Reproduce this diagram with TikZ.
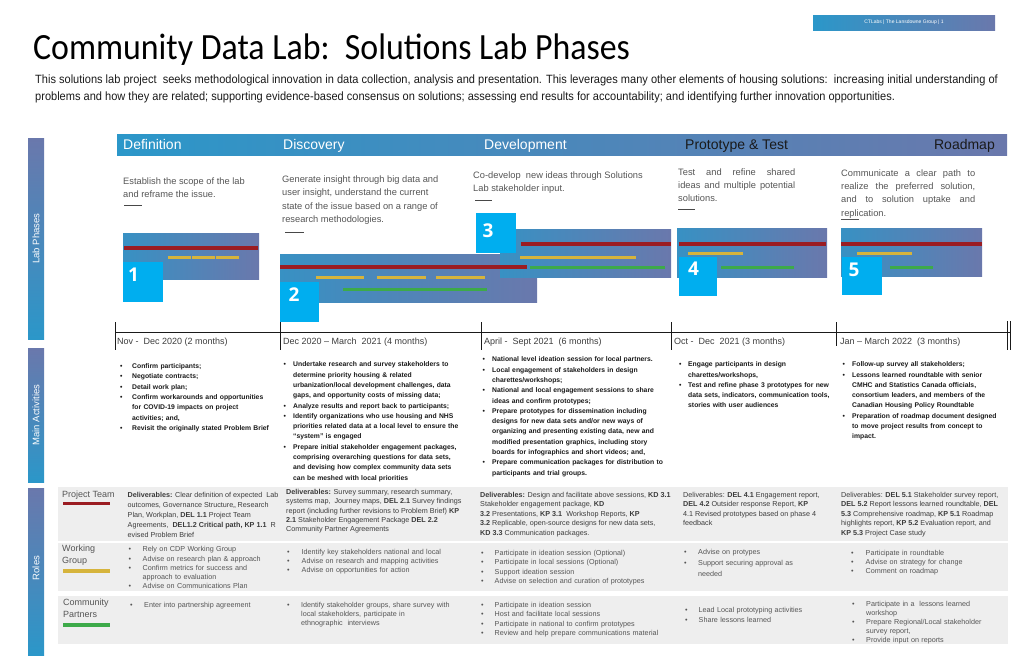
\documentclass[tikz,border=0pt]{standalone}
\usepackage{fontspec}
\setmainfont{Liberation Sans}
\newfontfamily\titlefont[FakeStretch=0.915]{Carlito}
\newfontfamily\narrowfont[FakeStretch=0.92]{Liberation Sans}
\newfontfamily\digitfont{Open Sans}
\usepackage{tikz}
\definecolor{labTeal}{HTML}{2B97C9}
\definecolor{labSlate}{HTML}{6A78AC}
\definecolor{labCyan}{HTML}{00AEEF}
\definecolor{labRed}{HTML}{9B1C22}
\definecolor{labGold}{HTML}{D6B43C}
\definecolor{labGreen}{HTML}{3DAA49}
\definecolor{labGrey}{HTML}{EEEEEE}
\definecolor{labInk}{HTML}{1A1A1A}
\definecolor{labText}{HTML}{555555}
\newcommand{\labitem}[2][10pt]{\par\noindent\hangindent=#1\hangafter=1\makebox[#1][l]{\textbullet}#2\par}
\tikzset{
  sidebar/.style={top color=labSlate,bottom color=labTeal,draw=none},
  sidetext/.style={rotate=90,text=white,inner sep=0pt,font=\fontsize{9.5}{11}\selectfont},
  phasehead/.style={anchor=base west,inner sep=0pt,font=\fontsize{14}{16}\selectfont},
  phasetext/.style={anchor=north west,inner sep=0pt,align=left,text=labText,
    font=\fontsize{9.3}{13.3}\selectfont},
  ganttpanel/.style={left color=labTeal!80!labSlate,right color=labSlate,draw=none},
  redbar/.style={draw=labRed,line width=4pt},
  goldbar/.style={draw=labGold,line width=3pt},
  greenbar/.style={draw=labGreen,line width=3pt},
  numtext/.style={text=white,inner sep=0pt,font=\digitfont\bfseries\fontsize{19}{19}\selectfont},
  timeline/.style={draw=labInk,line width=0.8pt},
  timetext/.style={anchor=base west,inner sep=0pt,text=labInk!85,font=\fontsize{9}{11}\selectfont},
  actlist/.style={anchor=north west,inner sep=0pt,align=left,text width=200pt,text=labInk,
    font=\bfseries\fontsize{6.8}{10.3}\selectfont},
  rolerow/.style={fill=labGrey,draw=none},
  rolename/.style={anchor=north west,inner sep=0pt,align=left,text=labText,font=\fontsize{9}{11.5}\selectfont},
  roletext/.style={anchor=north west,inner sep=0pt,align=left,text=labInk!85,font=\fontsize{7.2}{9.4}\selectfont},
  rolelist/.style={anchor=north west,inner sep=0pt,align=left,text width=200pt,text=labText,
    font=\fontsize{7.2}{9.2}\selectfont}
}

\begin{document}
\begin{tikzpicture}[x=1pt,y=-1pt]
  \useasboundingbox (0,0) rectangle (1024,662);

  \shade[left color=labTeal,right color=labSlate] (813,15) rectangle (995,30);
  \node[text=white,inner sep=0pt,font=\fontsize{5}{6}\selectfont] (tag) at (904,22.5) {CTLabs | The Lansdowne Group | 1};

  \node[anchor=base west,inner sep=0pt,font=\titlefont\fontsize{37}{40}\selectfont] (title) at (33,59)
    {Community Data Lab:\ \ Solutions Lab Phases};
  \node[anchor=base west,inner sep=0pt,text=labInk,font=\narrowfont\fontsize{12}{14}\selectfont] (intro1) at (35,83.5)
    {This solutions lab project\ \ seeks methodological innovation in data collection, analysis and presentation. This leverages many other elements of housing solutions:\ \ increasing initial understanding of};
  \node[anchor=base west,inner sep=0pt,text=labInk,font=\narrowfont\fontsize{12}{14}\selectfont] (intro2) at (35,100)
    {problems and how they are related; supporting evidence-based consensus on solutions; assessing end results for accountability; and identifying further innovation opportunities.};

  \shade[sidebar] (28,138) rectangle (44,339);
  \shade[sidebar] (28,348) rectangle (44,482);
  \shade[sidebar] (28,488) rectangle (44,655);
  \node[sidetext] (labphases) at (36,238.5) {Lab Phases};
  \node[sidetext] (mainact) at (36,415) {Main Activities};
  \node[sidetext] (roles) at (36,568) {Roles};

  \shade[left color=labTeal,right color=labSlate] (117,134) rectangle (1007,155);
  \node[phasehead,text=white] (definition) at (123,149) {Definition};
  \node[phasehead,text=white] (discovery) at (283,149) {Discovery};
  \node[phasehead,text=white] (development) at (484,149) {Development};
  \node[phasehead,text=labInk] (prototype) at (685,149) {Prototype \& Test};
  \node[phasehead,text=labInk,anchor=base east] (roadmap) at (995,149) {Roadmap};

  \node[phasetext] (defdesc) at (123,177.6) {Establish the scope of the lab\\and reframe the issue.};
  \node[phasetext] (discdesc) at (282,175.6) {Generate insight through big data and\\user insight, understand the current\\state of the issue based on a range of\\research methodologies.};
  \node[phasetext] (devdesc) at (473,171.3) {Co-develop\ \ new ideas through Solutions\\Lab stakeholder input.};
  \node[phasetext] (protodesc) at (678,168.3) {\makebox[117pt][s]{Test and refine shared}\\\makebox[117pt][s]{ideas and multiple potential}\\solutions.};
  \node[phasetext] (roaddesc) at (841,169.3) {\makebox[134pt][s]{Communicate a clear path to}\\\makebox[134pt][s]{realize the preferred solution,}\\\makebox[134pt][s]{and to solution uptake and}\\\underline{repli}cation.};
  \draw[labInk!80,line width=0.9pt] (124,205) -- (142,205);
  \draw[labInk!80,line width=0.9pt] (285,232) -- (304,232);
  \draw[labInk!80,line width=0.9pt] (475,200) -- (492,200);
  \draw[labInk!80,line width=0.9pt] (678,209) -- (695,209);

  \shade[ganttpanel] (123,233) rectangle (259,279);
  \shade[ganttpanel] (280,254) rectangle (537,302);
  \shade[ganttpanel] (500,229) rectangle (671,277);
  \shade[ganttpanel] (677,228) rectangle (827,277);
  \shade[ganttpanel] (841,228) rectangle (982,276);

  \draw[redbar] (124,248.3) -- (258,248.3);
  \draw[goldbar,dash pattern=on 23pt off 1pt] (168,257.3) -- (240,257.3);
  \draw[redbar] (280,267.3) -- (527,267.3);
  \draw[goldbar] (316,277.3) -- (364,277.3);
  \draw[goldbar] (377,277.3) -- (426,277.3);
  \draw[goldbar] (436,277.3) -- (485,277.3);
  \draw[greenbar] (343,289) -- (487,289);
  \draw[redbar] (521,244) -- (671,244);
  \draw[goldbar] (520,257) -- (636,257);
  \draw[greenbar] (530,267.3) -- (665,267.3);
  \draw[redbar] (679,244.3) -- (826,244.3);
  \draw[goldbar] (688,253) -- (743,253);
  \draw[greenbar] (721,267) -- (794,267);
  \draw[redbar] (841,244.3) -- (982,244.3);
  \draw[goldbar] (857,253) -- (912,253);
  \draw[greenbar] (890,267) -- (933,267);

  \fill[labCyan] (123,262) rectangle (162.5,301.7);
  \fill[labCyan] (280,282) rectangle (319,321.5);
  \fill[labCyan] (476,213) rectangle (516,253);
  \fill[labCyan] (679,257) rectangle (717,296);
  \fill[labCyan] (842,257) rectangle (881.7,295);
  \node[numtext] (num1) at (133.5,275) {1};
  \node[numtext] (num2) at (294,295) {2};
  \node[numtext] (num3) at (488,231) {3};
  \node[numtext] (num4) at (693.5,269) {4};
  \node[numtext] (num5) at (854,269.5) {5};

  \draw[timeline] (115,332) -- (1010,332);
  \draw[timeline] (115,322) -- (115,350);
  \draw[timeline] (280,322) -- (280,350);
  \draw[timeline] (481,322) -- (481,350);
  \draw[timeline] (671,322) -- (671,350);
  \draw[timeline] (836,322) -- (836,346);
  \draw[timeline] (1007,321) -- (1007,350);
  \draw[timeline] (1010,321) -- (1010,350);
  \node[timetext] (time1) at (117,344.5) {Nov -\ \ Dec 2020 (2 months)};
  \node[timetext] (time2) at (283,344.5) {Dec 2020 -- March\ \ 2021 (4 months)};
  \node[timetext] (time3) at (484,344.5) {April -\ \ Sept 2021\ \ (6 months)};
  \node[timetext] (time4) at (674,344.5) {Oct -\ \ Dec\ \ 2021 (3 months)};
  \node[timetext] (time5) at (840,344.5) {Jan -- March 2022\ \ (3 months)};

  \node[actlist] (act1) at (120,358) {%
    \labitem[12pt]{Confirm participants;}
    \labitem[12pt]{Negotiate contracts;}
    \labitem[12pt]{Detail work plan;}
    \labitem[12pt]{Confirm workarounds and opportunities\newline for COVID-19 impacts on project\newline activities; and,}
    \labitem[12pt]{Revisit the originally stated Problem Brief}};
  \node[actlist] (act2) at (283.5,356.3) {%
    \labitem[9.5pt]{Undertake research and survey stakeholders to\newline determine priority housing \& related\newline urbanization/local development challenges, data\newline gaps, and opportunity costs of missing data;}
    \labitem[9.5pt]{Analyze results and report back to participants;}
    \labitem[9.5pt]{Identify organizations who use housing and NHS\newline priorities related data at a local level to ensure the\newline ``system'' is engaged}
    \labitem[9.5pt]{Prepare initial stakeholder engagement packages,\newline comprising overarching questions for data sets,\newline and devising how complex community data sets\newline can be meshed with local priorities}};
  \node[actlist] (act3) at (482.5,351.3) {%
    \labitem[9.5pt]{National level ideation session for local partners.}
    \labitem[9.5pt]{Local engagement of stakeholders in design\newline charettes/workshops;}
    \labitem[9.5pt]{National and local engagement sessions to share\newline ideas and confirm prototypes;}
    \labitem[9.5pt]{Prepare prototypes for dissemination including\newline designs for new data sets and/or new ways of\newline organizing and presenting existing data, new and\newline modified presentation graphics, including story\newline boards for infographics and short videos; and,}
    \labitem[9.5pt]{Prepare communication packages for distribution to\newline participants and trial groups.}};
  \node[actlist] (act4) at (679,356.2) {%
    \labitem[9pt]{Engage participants in design\newline charettes/workshops,}
    \labitem[9pt]{Test and refine phase 3 prototypes for new\newline data sets, indicators, communication tools,\newline stories with user audiences}};
  \node[actlist] (act5) at (842.5,356.2) {%
    \labitem[9.5pt]{Follow-up survey all stakeholders;}
    \labitem[9.5pt]{Lessons learned roundtable with senior\newline CMHC and Statistics Canada officials,\newline consortium leaders, and members of the\newline Canadian Housing Policy Roundtable}
    \labitem[9.5pt]{Preparation of roadmap document designed\newline to move project results from concept to\newline impact.}};

  \fill[rolerow] (58,487) rectangle (1008,541);
  \fill[rolerow] (58,543) rectangle (1008,591);
  \fill[rolerow] (58,596) rectangle (1008,644);
  \node[rolename] (team) at (62,490.8) {Project Team};
  \node[rolename] (group) at (62,544.8) {Working\\Group};
  \node[rolename] (partners) at (63,598.8) {Community\\Partners};
  \fill[labRed] (63,501.7) rectangle (110,504.5);
  \fill[labGold] (62.5,569.3) rectangle (109.5,573.3);
  \fill[labGreen] (62.5,622.7) rectangle (110,627);

  \node[roletext,font=\fontsize{7.2}{10}\selectfont] (teamdel1) at (127.5,492.5)
    {\textbf{Deliverables:} Clear definition of expected\ \ Lab\\outcomes, Governance Structure,, Research\\Plan, Workplan, \textbf{DEL 1.1} Project Team\\Agreements,\ \ \textbf{DEL1.2 Critical path, KP 1.1}\ \ R\\evised Problem Brief};
  \node[roletext,font=\fontsize{7.2}{9.3}\selectfont] (teamdel2) at (286,489)
    {\textbf{Deliverables:} Survey summary, research summary,\\systems map,\ \ Journey maps, \textbf{DEL 2.1} Survey findings\\report (including further revisions to Problem Brief) \textbf{KP}\\\textbf{2.1} Stakeholder Engagement Package \textbf{DEL 2.2}\\Community Partner Agreements};
  \node[roletext] (teamdel3) at (480,492)
    {\textbf{Deliverables:} Design and facilitate above sessions, \textbf{KD 3.1}\\Stakeholder engagement package, \textbf{KD}\\\textbf{3.2} Presentations, \textbf{KP 3.1}\ \ Workshop Reports, \textbf{KP}\\\textbf{3.2} Replicable, open-source designs for new data sets,\\\textbf{KD 3.3} Communication packages.};
  \node[roletext] (teamdel4) at (683,492)
    {Deliverables: \textbf{DEL 4.1} Engagement report,\\\textbf{DEL 4.2} Outsider response Report, \textbf{KP}\\4.1 Revised prototypes based on phase 4\\feedback};
  \node[roletext] (teamdel5) at (841,492)
    {Deliverables: \textbf{DEL 5.1} Stakeholder survey report,\\\textbf{DEL 5.2} Report lessons learned roundtable, \textbf{DEL}\\\textbf{5.3} Comprehensive roadmap, \textbf{KP 5.1} Roadmap\\highlights report, \textbf{KP 5.2} Evaluation report, and\\\textbf{KP 5.3} Project Case study};

  \node[rolelist] (group1) at (128.5,542.5) {%
    \labitem[14pt]{Rely on CDP Working Group}
    \labitem[14pt]{Advise on research plan \& approach}
    \labitem[14pt]{Confirm metrics for success and\newline approach to evaluation}
    \labitem[14pt]{Advise on Communications Plan}};
  \node[rolelist] (group2) at (287,545) {%
    \labitem[14.5pt]{Identify key stakeholders national and local}
    \labitem[14.5pt]{Advise on research and mapping activities}
    \labitem[14.5pt]{Advise on opportunities for action}};
  \node[rolelist,font=\fontsize{7.2}{9.3}\selectfont] (group3) at (481,546) {%
    \labitem[13.5pt]{Participate in ideation session (Optional)}
    \labitem[13.5pt]{Participate in local sessions (Optional)}
    \labitem[13.5pt]{Support ideation session}
    \labitem[13.5pt]{Advise on selection and curation of prototypes}};
  \node[rolelist,font=\fontsize{7.2}{10.6}\selectfont] (group4) at (684,544) {%
    \labitem[14pt]{Advise on protypes}
    \labitem[14pt]{Support securing approval as\newline needed}};
  \node[rolelist] (group5) at (851,546) {%
    \labitem[14.5pt]{Participate in roundtable}
    \labitem[14.5pt]{Advise on strategy for change}
    \labitem[14.5pt]{Comment on roadmap}};

  \node[rolelist] (partner1) at (130,598) {%
    \labitem[14pt]{Enter into partnership agreement}};
  \node[rolelist] (partner2) at (287,598) {%
    \labitem[14pt]{Identify stakeholder groups, share survey with\newline local stakeholders, participate in\newline ethnographic\ \ interviews}};
  \node[rolelist,font=\fontsize{7.2}{9.3}\selectfont] (partner3) at (481,598) {%
    \labitem[13.5pt]{Participate in ideation session}
    \labitem[13.5pt]{Host and facilitate local sessions}
    \labitem[13.5pt]{Participate in national to confirm prototypes}
    \labitem[13.5pt]{Review and help prepare communications material}};
  \node[rolelist,font=\fontsize{7.2}{10}\selectfont] (partner4) at (685,602) {%
    \labitem[13.5pt]{Lead Local prototyping activities}
    \labitem[13.5pt]{Share lessons learned}};
  \node[rolelist,font=\fontsize{7.2}{9}\selectfont] (partner5) at (852,596.8) {%
    \labitem[14pt]{Participate in a\ \ lessons learned\newline workshop}
    \labitem[14pt]{Prepare Regional/Local stakeholder\newline survey report,}
    \labitem[14pt]{Provide input on reports}};
\end{tikzpicture}
\end{document}
